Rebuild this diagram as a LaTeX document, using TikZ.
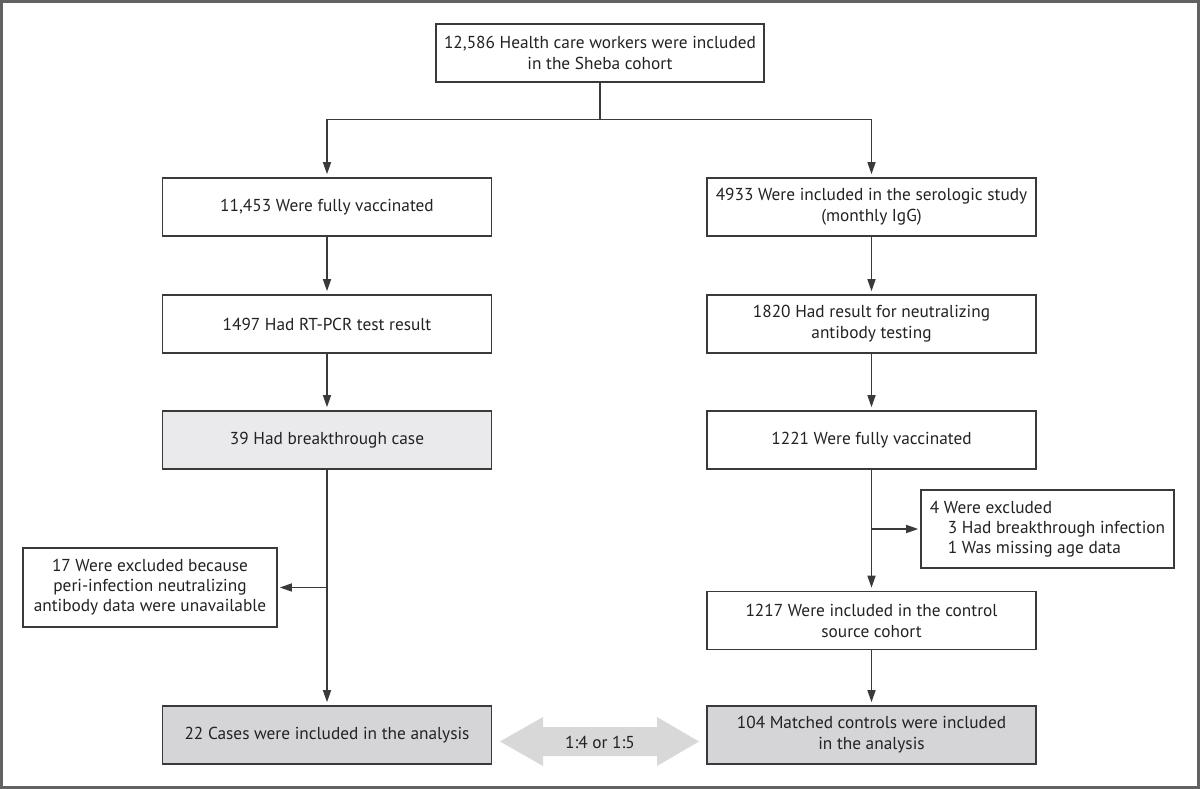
\documentclass[tikz,border=0pt]{standalone}
\usepackage{fontspec}
\setmainfont{PT Sans}
\usetikzlibrary{arrows.meta}
\definecolor{linec}{HTML}{3A3A3A}
\definecolor{framec}{HTML}{626262}
\definecolor{textc}{HTML}{222222}
\definecolor{lightfill}{HTML}{EAEAEC}
\definecolor{darkfill}{HTML}{D5D5D8}
\definecolor{arrowfill}{HTML}{D8D8D9}
\begin{document}
\begin{tikzpicture}[x=1pt,y=-1pt,
  box/.style={draw=linec, line width=1.6pt, minimum width=329pt, minimum height=58pt,
    inner sep=0pt, align=center, font=\fontsize{17.3}{21}\selectfont, text=textc},
  exbox/.style={box, minimum width=253pt, minimum height=78pt},
  conn/.style={draw=linec, line width=1.4pt},
  arr/.style={conn, -{Triangle[length=12pt,width=8pt]}, shorten >=3pt}
]
\useasboundingbox (0,0) rectangle (1200,789);
\draw[framec, line width=2.2pt] (1.5,1.5) rectangle (1198.5,787.5);

\node[box, minimum width=328pt] (top) at (600,53) {12,586 Health care workers were included\\in the Sheba cohort};
\node[box] (L1) at (327,207) {11,453 Were fully vaccinated};
\node[box] (R1) at (871.5,207) {4933 Were included in the serologic study\\(monthly IgG)};
\node[box] (L2) at (327,324) {1497 Had RT-PCR test result};
\node[box] (R2) at (871.5,324) {1820 Had result for neutralizing\\antibody testing};
\node[box, fill=lightfill] (L3) at (327,440) {39 Had breakthrough case};
\node[box] (R3) at (871.5,440) {1221 Were fully vaccinated};
\node[exbox, align=left, font=\fontsize{17.3}{20}\selectfont] (Rex) at (1047.5,529) {4 Were excluded\\\hspace*{18pt}3 Had breakthrough infection\\\hspace*{18pt}1 Was missing age data};
\node[box] (R4) at (871.5,620.5) {1217 Were included in the control\\source cohort};
\node[exbox, minimum width=254pt, minimum height=79pt, font=\fontsize{17.3}{20}\selectfont] (Lex) at (150,587.5) {17 Were excluded because\\peri-infection neutralizing\\antibody data were unavailable};
\node[box, fill=darkfill] (L5) at (327,735) {22 Cases were included in the analysis};
\node[box, fill=darkfill] (R5) at (871.5,735) {104 Matched controls were included\\in the analysis};

\coordinate (split) at (600,119.5);
\draw[conn] (top.south) -- (split);
\draw[arr] (split) -| (L1.north);
\draw[arr] (split) -| (R1.north);
\draw[arr] (L1) -- (L2);
\draw[arr] (R1) -- (R2);
\draw[arr] (L2) -- (L3);
\draw[arr] (R2) -- (R3);
\draw[arr] (L3) -- (L5);
\draw[arr] (R3) -- (R4);
\draw[arr] (R4) -- (R5);
\draw[arr, shorten >=2pt] (Lex.east -| L3.south) -- (Lex.east);
\draw[arr, shorten >=2pt] (Rex.west -| R3.south) -- (Rex.west);

% matching double arrow
\fill[arrowfill] (500,741.5) -- (543,717) -- (543,727) -- (657,727) -- (657,717) -- (699,741.5)
  -- (657,766) -- (657,756) -- (543,756) -- (543,766) -- cycle;
\node[font=\fontsize{17.3}{21}\selectfont, text=textc] (ratio) at (600,742) {1:4 or 1:5};
\end{tikzpicture}
\end{document}
